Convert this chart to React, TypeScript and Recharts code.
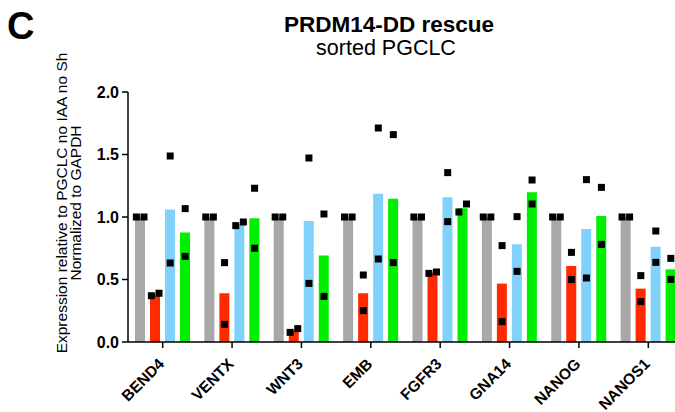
import React from "react";
import { ComposedChart, Bar, Scatter, XAxis, YAxis } from "recharts";

const genes = ["BEND4", "VENTX", "WNT3", "EMB", "FGFR3", "GNA14", "NANOG", "NANOS1"];
const yTicks = [0, 0.5, 1.0, 1.5, 2.0];

// bar heights (mean of replicates)
const grayMean = [1, 1, 1, 1, 1, 1, 1, 1];
const redMean = [0.38, 0.39, 0.09, 0.39, 0.555, 0.467, 0.608, 0.427];
const blueMean = [1.06, 0.944, 0.968, 1.186, 1.158, 0.782, 0.904, 0.763];
const greenMean = [0.876, 0.99, 0.693, 1.146, 1.07, 1.198, 1.008, 0.581];

// individual replicates (black squares)
const grayReps = [[1, 1], [1, 1], [1, 1], [1, 1], [1, 1], [1, 1], [1, 1], [1, 1]];
const redReps = [[0.37, 0.39], [0.635, 0.141], [0.077, 0.107], [0.536, 0.251], [0.549, 0.56], [0.771, 0.163], [0.717, 0.499], [0.531, 0.323]];
const blueReps = [[1.488, 0.632], [0.931, 0.96], [1.472, 0.469], [1.712, 0.664], [1.355, 0.963], [1.003, 0.565], [1.299, 0.512], [0.888, 0.637]];
const greenReps = [[1.067, 0.685], [1.23, 0.75], [1.024, 0.365], [1.659, 0.635], [1.04, 1.104], [1.296, 1.104], [1.237, 0.781], [0.669, 0.501]];

const COLORS = ["#a8a8a8", "#ff2a00", "#80d2fb", "#00ee00"];
const FONT = "'Liberation Sans', Arial, sans-serif";

const W = 690;
const H = 412;
const margin = { top: 92, right: 7, bottom: 0, left: 0 };
const Y_AXIS_W = 128;
const X_AXIS_H = 70;
const BAR = 10;
const GAP = 5;
const plotW = W - margin.left - margin.right - Y_AXIS_W;
const band = plotW / genes.length;

const data = genes.map((g, i) => ({
  gene: g,
  gray: grayMean[i],
  red: redMean[i],
  blue: blueMean[i],
  green: greenMean[i],
}));

const allReps = [grayReps, redReps, blueReps, greenReps];
const points: { x: number; y: number }[] = [];
allReps.forEach((reps, s) => {
  const off = ((s - 1.5) * (BAR + GAP)) / band;
  reps.forEach((pair, i) => {
    const dodge = Math.abs(pair[0] - pair[1]) < 0.08 ? 3.8 / band : 0;
    pair.forEach((v, k) => {
      points.push({ x: i + 0.5 + off + (k === 0 ? -dodge : dodge), y: v });
    });
  });
});

function GeneTick(props: any) {
  const { x, y, payload } = props;
  const ax = x + 2.5;
  const ay = y + 15;
  return (
    <text
      x={ax}
      y={ay}
      textAnchor="end"
      transform={`rotate(-45, ${ax}, ${ay})`}
      fontFamily={FONT}
      fontWeight="bold"
      fontSize={15.5}
      fill="#000"
    >
      {payload.value}
    </text>
  );
}

const Square = (p: any) => (
  <rect x={p.cx - 3.5} y={p.cy - 3.5} width={7} height={7} fill="#000" />
);

export default function App() {
  return (
    <div style={{ position: "fixed", left: 0, top: 0, width: 675, height: 412, overflow: "hidden", background: "#fff" }}>
      <ComposedChart width={W} height={H} data={data} margin={margin} barSize={BAR} barGap={GAP}>
        <XAxis
          dataKey="gene"
          xAxisId="cat"
          height={X_AXIS_H}
          interval={0}
          tick={<GeneTick />}
          tickSize={6}
          axisLine={{ stroke: "#000", strokeWidth: 1.5 }}
          tickLine={{ stroke: "#000", strokeWidth: 1.5 }}
        />
        <XAxis dataKey="x" xAxisId="num" type="number" domain={[0, genes.length]} hide allowDataOverflow />
        <YAxis
          width={Y_AXIS_W}
          domain={[0, 2]}
          ticks={yTicks}
          tickFormatter={(v: number) => v.toFixed(1)}
          tickSize={6}
          tickMargin={3}
          tick={{ fill: "#000", fontFamily: FONT, fontWeight: "bold", fontSize: 16 }}
          axisLine={{ stroke: "#000", strokeWidth: 1.5 }}
          tickLine={{ stroke: "#000", strokeWidth: 1.5 }}
        />
        <Bar xAxisId="cat" dataKey="gray" fill={COLORS[0]} isAnimationActive={false} />
        <Bar xAxisId="cat" dataKey="red" fill={COLORS[1]} isAnimationActive={false} />
        <Bar xAxisId="cat" dataKey="blue" fill={COLORS[2]} isAnimationActive={false} />
        <Bar xAxisId="cat" dataKey="green" fill={COLORS[3]} isAnimationActive={false} />
        <Scatter xAxisId="num" data={points} dataKey="y" shape={Square} isAnimationActive={false} />
      </ComposedChart>
      <svg width={675} height={412} style={{ position: "absolute", left: 0, top: 0, pointerEvents: "none" }}>
        <text x={7} y={39} fontFamily={FONT} fontWeight="bold" fontSize={38} fill="#000">C</text>
        <text x={389} y={32} textAnchor="middle" fontFamily={FONT} fontWeight="bold" fontSize={22.5} fill="#000">
          PRDM14-DD rescue
        </text>
        <text x={386} y={55} textAnchor="middle" fontFamily={FONT} fontSize={21.5} fill="#000">
          sorted PGCLC
        </text>
        <g transform="translate(66.5, 203) rotate(-90)" fontFamily={FONT} fontSize={15.5} fill="#000">
          <text x={0} y={0} textAnchor="middle">Expression relative to PGCLC no IAA no Sh</text>
          <text x={0} y={14.5} textAnchor="middle">Normalized to GAPDH</text>
        </g>
      </svg>
    </div>
  );
}
